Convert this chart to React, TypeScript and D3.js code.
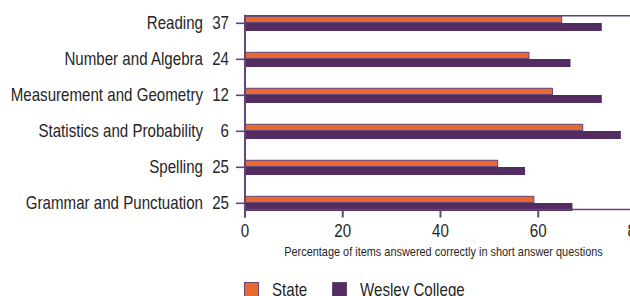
import React, { useEffect, useRef } from 'react';
import * as d3 from 'd3';

const categories = [
  'Reading',
  'Number and Algebra',
  'Measurement and Geometry',
  'Statistics and Probability',
  'Spelling',
  'Grammar and Punctuation',
];
const itemCounts = [37, 24, 12, 6, 25, 25];
const stateValues = [64.7, 58.0, 62.8, 69.0, 51.6, 59.0];
const schoolValues = [73.0, 66.6, 73.0, 76.9, 57.3, 67.0];
const xTicks = [0, 20, 40, 60, 80];
const seriesNames = ['State', 'Wesley College'];

const ORANGE = '#e8692e';
const PURPLE = '#532c61';
const LINE = '#654578';
const TEXT = '#262626';
const FONT = '"Liberation Sans", Arial, sans-serif';
const SQUEEZE = 0.84; // the original text is horizontally condensed

export default function App() {
  const svgRef = useRef<SVGSVGElement>(null);

  useEffect(() => {
    if (!svgRef.current) return;
    const svg = d3.select(svgRef.current);
    svg.selectAll('*').remove();

    const x = d3.scaleLinear().domain([0, 80]).range([245, 636]);
    const y = d3.scaleBand<string>()
      .domain(categories)
      .range([5.3, 221.3]);
    const mid = (c: string) => (y(c) as number) + y.bandwidth() / 2;

    const plotTop = mid(categories[0]) - 7.5;
    const plotBottom = mid(categories[categories.length - 1]) + 6.2;

    // condensed text helper
    const label = (
      g: d3.Selection<SVGGElement, unknown, null, undefined>,
      tx: number,
      ty: number,
      txt: string,
      size: number,
      anchor: string
    ) => {
      g.append('g')
        .attr('transform', `translate(${tx},${ty}) scale(${SQUEEZE},1)`)
        .append('text')
        .attr('text-anchor', anchor)
        .attr('font-family', FONT)
        .attr('font-size', size)
        .attr('fill', TEXT)
        .text(txt);
    };

    const root = svg.append('g');

    // bars
    const rows = categories.map((c, i) => ({
      c, n: itemCounts[i], state: stateValues[i], school: schoolValues[i],
    }));

    root.selectAll('.school')
      .data(rows)
      .enter()
      .append('rect')
      .attr('class', 'school')
      .attr('x', x(0))
      .attr('y', d => mid(d.c) - 0.3)
      .attr('width', d => x(d.school) - x(0))
      .attr('height', 8)
      .attr('fill', PURPLE);

    root.selectAll('.state')
      .data(rows)
      .enter()
      .append('rect')
      .attr('class', 'state')
      .attr('x', x(0) + 0.5)
      .attr('y', d => mid(d.c) - 7)
      .attr('width', d => x(d.state) - x(0))
      .attr('height', 6.2)
      .attr('fill', ORANGE)
      .attr('stroke', LINE)
      .attr('stroke-width', 1);

    // frame lines top / bottom
    [plotTop, plotBottom].forEach(yy => {
      root.append('line')
        .attr('x1', x(0)).attr('x2', 630)
        .attr('y1', yy).attr('y2', yy)
        .attr('stroke', LINE)
        .attr('stroke-width', 1.6);
    });

    // left axis line
    root.append('line')
      .attr('x1', x(0)).attr('x2', x(0))
      .attr('y1', plotTop - 1).attr('y2', plotBottom + 8)
      .attr('stroke', LINE)
      .attr('stroke-width', 2);

    // y ticks + labels
    rows.forEach(d => {
      const cy = mid(d.c);
      root.append('line')
        .attr('x1', x(0) - 9).attr('x2', x(0))
        .attr('y1', cy).attr('y2', cy)
        .attr('stroke', LINE)
        .attr('stroke-width', 1.6);
      label(root, 203, cy + 6, d.c, 18, 'end');
      label(root, 229, cy + 6, String(d.n), 18, 'end');
    });

    // x ticks + labels
    xTicks.forEach(t => {
      root.append('line')
        .attr('x1', x(t)).attr('x2', x(t))
        .attr('y1', plotBottom).attr('y2', plotBottom + 8)
        .attr('stroke', LINE)
        .attr('stroke-width', 2);
      label(root, x(t), 236.7, String(t), 18, 'middle');
    });

    label(root, 443.5, 256.3,
      'Percentage of items answered correctly in short answer questions',
      13, 'middle');

    // legend
    const legendX = [244.5, 332.5];
    const legendText = [272, 360];
    const legendFill = [ORANGE, PURPLE];
    seriesNames.forEach((s, i) => {
      root.append('rect')
        .attr('x', legendX[i])
        .attr('y', 282.5)
        .attr('width', 14)
        .attr('height', 16)
        .attr('fill', legendFill[i])
        .attr('stroke', LINE)
        .attr('stroke-width', 1);
      label(root, legendText[i], 295.6, s, 18, 'start');
    });
  }, []);

  return (
    <svg
      ref={svgRef}
      width={630}
      height={296}
      style={{ position: 'absolute', left: 0, top: 0, background: '#fff' }}
    />
  );
}
